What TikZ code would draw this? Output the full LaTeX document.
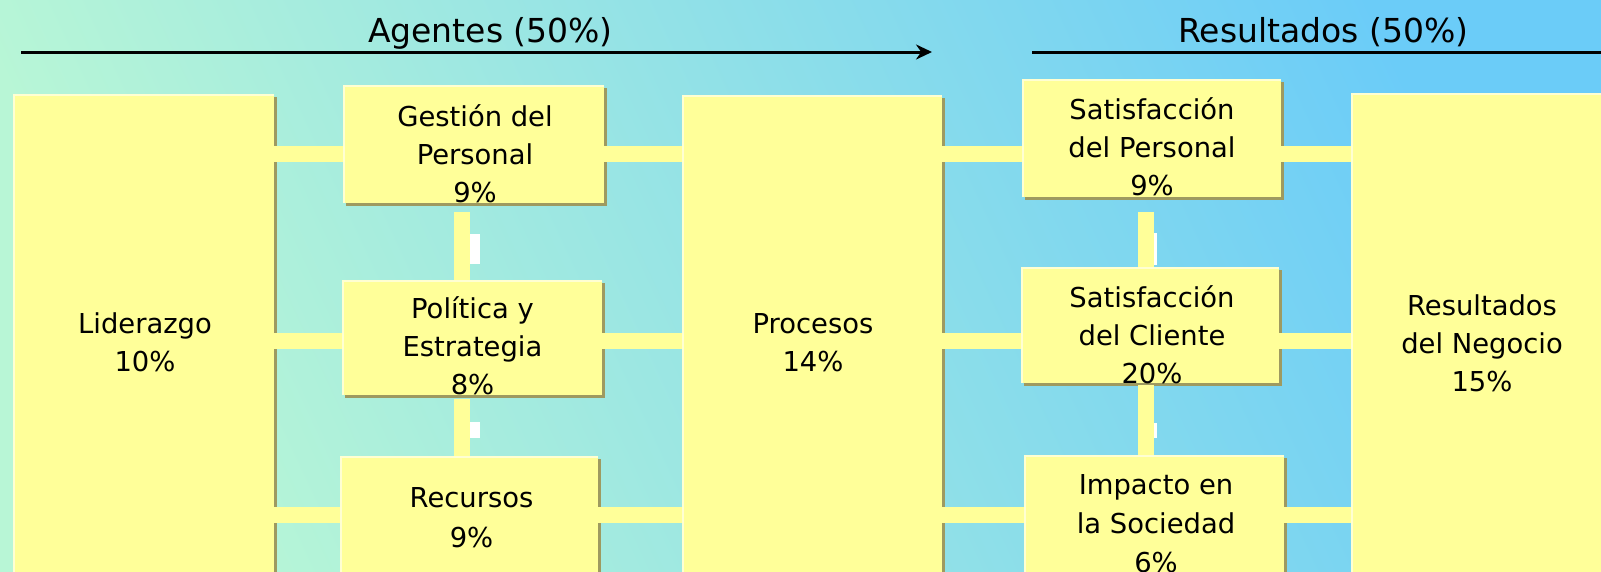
\documentclass[tikz,border=0pt]{standalone}
\usepackage{fontspec}
\setmainfont{DejaVu Sans}
\usetikzlibrary{arrows.meta,shadows,calc}

\definecolor{bgmint}{HTML}{B8F6D6}
\definecolor{bgsky}{HTML}{6BCCF8}
\definecolor{cardfill}{HTML}{FFFF99}
\definecolor{cardshade}{HTML}{9E9A60}
\definecolor{cardlight}{HTML}{FFFFD2}

% centred lines of a label, aligned on the baseline of the first line
\newcommand\boxtext[1]{\begin{tabular}[t]{@{}c@{}}#1\end{tabular}}

\begin{document}
\begin{tikzpicture}[x=1pt,y=-1pt,
  card/.style={fill=cardfill, inner sep=0pt, outer sep=0pt, anchor=north west,
    drop shadow={shadow xshift=3pt, shadow yshift=-3pt, fill=cardshade, opacity=1}},
  edgelight/.style={cardlight, line width=2.5pt},
  lbl/.style={anchor=base, inner sep=0pt, font=\fontsize{27.4}{38}\selectfont},
  head/.style={anchor=base, inner sep=0pt, font=\fontsize{33}{40}\selectfont},
  bar/.style={draw=cardfill, line width=16pt},
  rule/.style={line width=3pt, black},
  gap/.style={fill=white}
]
\useasboundingbox (0,0) rectangle (1601,571);
\clip (0,0) rectangle (1601,571);

% background
\shade[shading=axis, bottom color=bgmint, top color=bgsky, shading angle=-65]
  (0,0) rectangle (1601,571);

% boxes
\node[card, minimum width=261pt, minimum height=506pt] (lid)  at (13,94)   {};
\node[card, minimum width=261pt, minimum height=118pt] (gest) at (343,85)  {};
\node[card, minimum width=260pt, minimum height=115pt] (pol)  at (342,280) {};
\node[card, minimum width=258pt, minimum height=164pt] (rec)  at (340,456) {};
\node[card, minimum width=260pt, minimum height=505pt] (proc) at (682,95)  {};
\node[card, minimum width=259pt, minimum height=118pt] (satp) at (1022,79) {};
\node[card, minimum width=258pt, minimum height=116pt] (satc) at (1021,267){};
\node[card, minimum width=260pt, minimum height=165pt] (imp)  at (1024,455){};
\node[card, minimum width=270pt, minimum height=507pt] (res)  at (1351,93) {};

% light top and left edges
\foreach \n in {lid,gest,pol,rec,proc,satp,satc,imp,res}
  \draw[edgelight] ([xshift=1pt]\n.south west) -- ([shift={(1pt,-1pt)}]\n.north west)
     -- ([yshift=-1pt]\n.north east);

% connector rows and columns
\coordinate (row1) at (0,154);
\coordinate (row2) at (0,341);
\coordinate (row3) at (0,515);
\coordinate (colA) at (462,0);
\coordinate (colB) at (1146,0);

\draw[bar] (lid.east |- row1) -- (gest.west |- row1);
\draw[bar] (gest.east |- row1) -- (proc.west |- row1);
\draw[bar] (proc.east |- row1) -- (satp.west |- row1);
\draw[bar] (satp.east |- row1) -- (res.west |- row1);

\draw[bar] (lid.east |- row2) -- (pol.west |- row2);
\draw[bar] (pol.east |- row2) -- (proc.west |- row2);
\draw[bar] (proc.east |- row2) -- (satc.west |- row2);
\draw[bar] (satc.east |- row2) -- (res.west |- row2);

\draw[bar] (lid.east |- row3) -- (rec.west |- row3);
\draw[bar] (rec.east |- row3) -- (proc.west |- row3);
\draw[bar] (proc.east |- row3) -- (imp.west |- row3);
\draw[bar] (imp.east |- row3) -- (res.west |- row3);

\draw[bar] ($(gest.south -| colA)+(0,9)$) -- (pol.north -| colA);
\draw[bar] ($(pol.south -| colA)+(0,4)$) -- (rec.north -| colA);
\draw[bar] ($(satp.south -| colB)+(0,15)$) -- (satc.north -| colB);
\draw[bar] ($(satc.south -| colB)+(0,2)$) -- (imp.north -| colB);

% white flecks beside the vertical links
\fill[gap] (470,234) rectangle (480,264);
\fill[gap] (470,422) rectangle (480,438);
\fill[gap] (1154,233) rectangle (1157,265);
\fill[gap] (1154,423) rectangle (1157,438);

% headings and rules
\node[head] (agh)  at (490.5,42)  {Agentes (50\%)};
\node[head] (resh) at (1323.5,42) {Resultados (50\%)};
\coordinate (agL) at (21,52);
\coordinate (agR) at (932,52);
\coordinate (reL) at (1032,52);
\coordinate (reR) at (1601,52);
\draw[rule, -{Stealth[length=16pt,width=15pt]}] (agL) -- (agR);
\draw[rule] (reL) -- (reR);

% labels
\node[lbl] (lid-t)  at (145,333)  {\boxtext{Liderazgo\\10\%}};
\node[lbl] (gest-t) at (475,126)  {\boxtext{Gestión del\\Personal\\9\%}};
\node[lbl] (pol-t)  at (472.5,318){\boxtext{Política y\\Estrategia\\8\%}};
\node[lbl] (rec-t)  at (471.5,507){\boxtext{Recursos\\[2pt]9\%}};
\node[lbl] (proc-t) at (813,333)  {\boxtext{Procesos\\14\%}};
\node[lbl] (satp-t) at (1152,119) {\boxtext{Satisfacción\\del Personal\\9\%}};
\node[lbl] (satc-t) at (1152,307) {\boxtext{Satisfacción\\del Cliente\\20\%}};
\node[lbl] (imp-t)  at (1156,494) {\boxtext{Impacto en\\[1pt]la Sociedad\\[1pt]6\%}};
\node[lbl] (res-t)  at (1482,315) {\boxtext{Resultados\\del Negocio\\15\%}};
\end{tikzpicture}
\end{document}
